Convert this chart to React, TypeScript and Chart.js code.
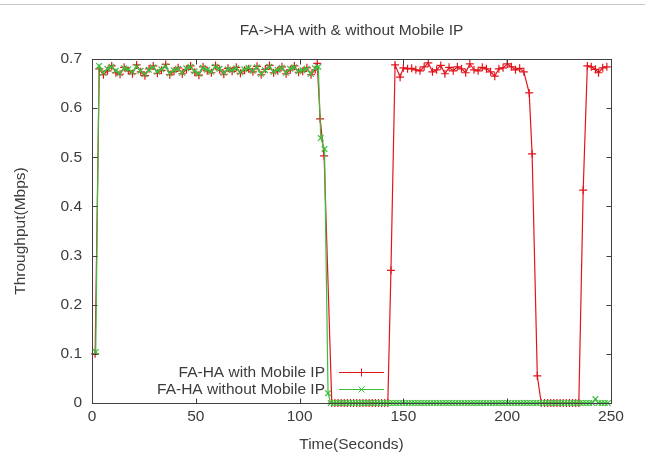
import React, { useEffect, useRef } from "react";
import { Chart, registerables } from "chart.js";

Chart.register(...registerables);

const chartTitle = "FA->HA with & without Mobile IP";
const xAxisTitle = "Time(Seconds)";
const yAxisTitle = "Throughput(Mbps)";
const seriesNames = ["FA-HA with Mobile IP", "FA-HA without Mobile IP"];
const xTicks = [0, 50, 100, 150, 200, 250];
const yTicks = [0, 0.1, 0.2, 0.3, 0.4, 0.5, 0.6, 0.7];

const redTimes = [
  1.5, 3.5, 5.5, 7.5, 9.5, 11.5, 13.5, 15.5, 17.5, 19.5,
  21.5, 23.5, 25.5, 27.5, 29.5, 31.5, 33.5, 35.5, 37.5, 39.5,
  41.5, 43.5, 45.5, 47.5, 49.5, 51.5, 53.5, 55.5, 57.5, 59.5,
  61.5, 63.5, 65.5, 67.5, 69.5, 71.5, 73.5, 75.5, 77.5, 79.5,
  81.5, 83.5, 85.5, 87.5, 89.5, 91.5, 93.5, 95.5, 97.5, 99.5,
  101.5, 103.5, 105.5, 107.5, 108.5, 109.9, 111.8, 115.5, 117, 118.5,
  120, 121.5, 123, 124.5, 126, 127.5, 129, 130.5, 132, 133.5,
  135, 136.5, 138, 139.5, 141, 142.5, 144, 146, 148.4, 150,
  152, 154, 156, 158, 160, 162, 164, 166, 168, 170,
  172, 174, 176, 178, 180, 182, 184, 186, 188, 190,
  192, 194, 196, 198, 200, 202, 204, 206, 208, 210.6,
  212, 214.5, 216.4, 218, 219.5, 221, 222.5, 224, 225.5, 227,
  228.5, 230, 231.5, 233, 234.5, 236.6, 238.6, 240.5, 242.5, 244,
  246, 248,
];
const redValues = [
  0.1, 0.68, 0.668, 0.676, 0.686, 0.672, 0.669, 0.683, 0.676, 0.67,
  0.688, 0.674, 0.666, 0.68, 0.686, 0.671, 0.677, 0.689, 0.668, 0.675,
  0.682, 0.67, 0.679, 0.686, 0.673, 0.667, 0.684, 0.676, 0.672, 0.687,
  0.678, 0.669, 0.681, 0.675, 0.683, 0.671, 0.677, 0.68, 0.674, 0.685,
  0.668, 0.679, 0.687, 0.672, 0.676, 0.684, 0.67, 0.678, 0.686, 0.673,
  0.675, 0.682, 0.668, 0.678, 0.691, 0.578, 0.503, 0, 0, 0,
  0, 0, 0, 0, 0, 0, 0, 0, 0, 0,
  0, 0, 0, 0, 0, 0, 0.27, 0.688, 0.663, 0.682,
  0.68, 0.681, 0.678, 0.676, 0.684, 0.692, 0.674, 0.678, 0.687, 0.67,
  0.683, 0.676, 0.684, 0.68, 0.672, 0.69, 0.678, 0.676, 0.683, 0.68,
  0.674, 0.665, 0.68, 0.682, 0.69, 0.684, 0.678, 0.681, 0.674, 0.631,
  0.507, 0.055, 0, 0, 0, 0, 0, 0, 0, 0,
  0, 0, 0, 0, 0, 0.433, 0.686, 0.684, 0.679, 0.672,
  0.682, 0.684,
];

const greenTimes = [
  1.8, 3.4, 5.4, 7.4, 9.4, 11.4, 13.4, 15.4, 17.4, 19.4,
  21.4, 23.4, 25.4, 27.4, 29.4, 31.4, 33.4, 35.4, 37.4, 39.4,
  41.4, 43.4, 45.4, 47.4, 49.4, 51.4, 53.4, 55.4, 57.4, 59.4,
  61.4, 63.4, 65.4, 67.4, 69.4, 71.4, 73.4, 75.4, 77.4, 79.4,
  81.4, 83.4, 85.4, 87.4, 89.4, 91.4, 93.4, 95.4, 97.4, 99.4,
  101.4, 103.4, 105.4, 107.4, 109, 110.2, 112, 113.7,
  115, 116.5, 118, 119.5, 121, 122.5, 124, 125.5, 127, 128.5,
  130, 131.5, 133, 134.5, 136, 137.5, 139, 140.5, 142, 143.5,
  145, 146.5, 148, 149.5, 151, 152.5, 154, 155.5, 157, 158.5,
  160, 161.5, 163, 164.5, 166, 167.5, 169, 170.5, 172, 173.5,
  175, 176.5, 178, 179.5, 181, 182.5, 184, 185.5, 187, 188.5,
  190, 191.5, 193, 194.5, 196, 197.5, 199, 200.5, 202, 203.5,
  205, 206.5, 208, 209.5, 211, 212.5, 214, 215.5, 217, 218.5,
  220, 221.5, 223, 224.5, 226, 227.5, 229, 230.5, 232, 233.5,
  235, 236.5, 238, 239.5, 241, 242.5, 244, 245.5, 247, 248.5,
];
const greenValues = [
  0.104, 0.686, 0.672, 0.68, 0.684, 0.676, 0.671, 0.681, 0.679, 0.673,
  0.684, 0.676, 0.669, 0.678, 0.683, 0.674, 0.679, 0.685, 0.671, 0.677,
  0.68, 0.672, 0.681, 0.684, 0.675, 0.67, 0.682, 0.678, 0.674, 0.684,
  0.68, 0.672, 0.679, 0.677, 0.681, 0.673, 0.679, 0.682, 0.676, 0.683,
  0.67, 0.677, 0.684, 0.674, 0.678, 0.682, 0.672, 0.68, 0.683, 0.675,
  0.677, 0.68, 0.67, 0.681, 0.684, 0.539, 0.517, 0.02,
  0, 0, 0, 0, 0, 0, 0, 0, 0, 0,
  0, 0, 0, 0, 0, 0, 0, 0, 0, 0,
  0, 0, 0, 0, 0, 0, 0, 0, 0, 0,
  0, 0, 0, 0, 0, 0, 0, 0, 0, 0,
  0, 0, 0, 0, 0, 0, 0, 0, 0, 0,
  0, 0, 0, 0, 0, 0, 0, 0, 0, 0,
  0, 0, 0, 0, 0, 0, 0, 0, 0, 0,
  0, 0, 0, 0, 0, 0, 0, 0, 0, 0,
  0, 0, 0, 0, 0, 0.008, 0, 0, 0, 0,
];

const RED = "#e2151d";
const GREEN = "#3cbf3c";
const TEXT = "#3c3c3c";
const FONT = "'Liberation Sans', Arial, sans-serif";
const FONT_SIZE = 15.5;

const framePlugin = {
  id: "frame",
  beforeDraw(chart: any) {
    const ctx = chart.ctx;
    ctx.save();
    ctx.strokeStyle = "#c8c8c8";
    ctx.lineWidth = 1;
    ctx.beginPath();
    ctx.moveTo(0, 4.5);
    ctx.lineTo(chart.width, 4.5);
    ctx.stroke();
    ctx.restore();
  },
  afterDatasetsDraw(chart: any) {
    const { ctx, chartArea: a, scales } = chart;
    const L = Math.round(a.left) + 0.5;
    const R = Math.round(a.right) + 0.5;
    const T = Math.round(a.top) + 0.5;
    const B = Math.round(a.bottom) + 0.5;
    ctx.save();
    ctx.strokeStyle = "#404040";
    ctx.lineWidth = 1;
    ctx.strokeRect(L, T, R - L, B - T);
    const tl = 5;
    ctx.beginPath();
    xTicks.forEach((v) => {
      const x = Math.round(scales.x.getPixelForValue(v)) + 0.5;
      ctx.moveTo(x, B);
      ctx.lineTo(x, B - tl);
      ctx.moveTo(x, T);
      ctx.lineTo(x, T + tl);
    });
    yTicks.forEach((v) => {
      const y = Math.round(scales.y.getPixelForValue(v)) + 0.5;
      ctx.moveTo(L, y);
      ctx.lineTo(L + tl, y);
      ctx.moveTo(R, y);
      ctx.lineTo(R - tl, y);
    });
    ctx.stroke();

    // title
    ctx.fillStyle = TEXT;
    ctx.font = `${FONT_SIZE}px ${FONT}`;
    ctx.textAlign = "center";
    ctx.textBaseline = "middle";
    ctx.fillText(chartTitle, (a.left + a.right) / 2, 31);

    // legend
    const colors = [RED, GREEN];
    const rows = [Math.round(a.bottom - 31.5) + 0.5, Math.round(a.bottom - 13.8) + 0.5];
    seriesNames.forEach((name, i) => {
      const y = rows[i];
      ctx.fillStyle = TEXT;
      ctx.textAlign = "right";
      ctx.textBaseline = "middle";
      ctx.fillText(name, a.left + 233, y);
      ctx.strokeStyle = colors[i];
      ctx.lineWidth = 1;
      ctx.beginPath();
      ctx.moveTo(a.left + 247, y);
      ctx.lineTo(a.left + 292, y);
      const cx = a.left + 269.5;
      const r = 4;
      if (i === 0) {
        ctx.moveTo(cx, y - r);
        ctx.lineTo(cx, y + r);
      } else {
        const d = r * 0.75;
        ctx.moveTo(cx - d, y - d);
        ctx.lineTo(cx + d, y + d);
        ctx.moveTo(cx - d, y + d);
        ctx.lineTo(cx + d, y - d);
      }
      ctx.stroke();
    });
    ctx.restore();
  },
};

export default function App() {
  const ref = useRef<HTMLCanvasElement | null>(null);
  useEffect(() => {
    if (!ref.current) return;
    const red = redTimes.map((t, i) => ({ x: t, y: redValues[i] }));
    const green = greenTimes.map((t, i) => ({ x: t, y: greenValues[i] }));
    const chart = new Chart(ref.current, {
      type: "line",
      data: {
        datasets: [
          {
            label: seriesNames[0],
            data: red,
            borderColor: RED,
            backgroundColor: RED,
            borderWidth: 1.2,
            pointStyle: "cross",
            pointRadius: 4,
            pointBorderWidth: 1.2,
            pointBorderColor: RED,
            tension: 0,
            clip: false as any,
            order: 1,
          },
          {
            label: seriesNames[1],
            data: green,
            borderColor: GREEN,
            backgroundColor: GREEN,
            borderWidth: 1.2,
            pointStyle: "crossRot",
            pointRadius: 4,
            pointBorderWidth: 1.2,
            pointBorderColor: GREEN,
            tension: 0,
            clip: false as any,
            order: 0,
          },
        ],
      },
      options: {
        animation: false,
        responsive: false,
        maintainAspectRatio: false,
        layout: { padding: { top: 59, right: 34, left: 0, bottom: 0 } },
        plugins: {
          legend: { display: false },
          tooltip: { enabled: false },
          title: { display: false },
        },
        scales: {
          x: {
            type: "linear",
            min: xTicks[0],
            max: xTicks[xTicks.length - 1],
            afterBuildTicks: (s: any) => {
              s.ticks = xTicks.map((v) => ({ value: v }));
            },
            afterFit: (s: any) => {
              s.height = 55;
            },
            grid: { display: false, drawTicks: false },
            border: { display: false },
            ticks: {
              color: TEXT,
              font: { family: FONT, size: FONT_SIZE },
              padding: 4,
              maxRotation: 0,
            },
            title: {
              display: true,
              text: xAxisTitle,
              color: TEXT,
              font: { family: FONT, size: FONT_SIZE },
              padding: { top: 0, bottom: 4 },
            },
          },
          y: {
            type: "linear",
            min: yTicks[0],
            max: yTicks[yTicks.length - 1],
            afterBuildTicks: (s: any) => {
              s.ticks = yTicks.map((v) => ({ value: v }));
            },
            afterFit: (s: any) => {
              s.width = 92;
            },
            grid: { display: false, drawTicks: false },
            border: { display: false },
            ticks: {
              color: TEXT,
              font: { family: FONT, size: FONT_SIZE },
              padding: 10,
              callback: (v: any) => String(Math.round(Number(v) * 10) / 10),
            },
            title: {
              display: true,
              text: yAxisTitle,
              color: TEXT,
              font: { family: FONT, size: FONT_SIZE },
              padding: { top: 11, bottom: 0 },
            },
          },
        },
      },
      plugins: [framePlugin],
    });
    return () => chart.destroy();
  }, []);
  return (
    <div style={{ position: "absolute", left: 0, top: 0, width: 645, height: 458, background: "#fff" }}>
      <canvas ref={ref} width={645} height={458} style={{ display: "block" }} />
    </div>
  );
}
